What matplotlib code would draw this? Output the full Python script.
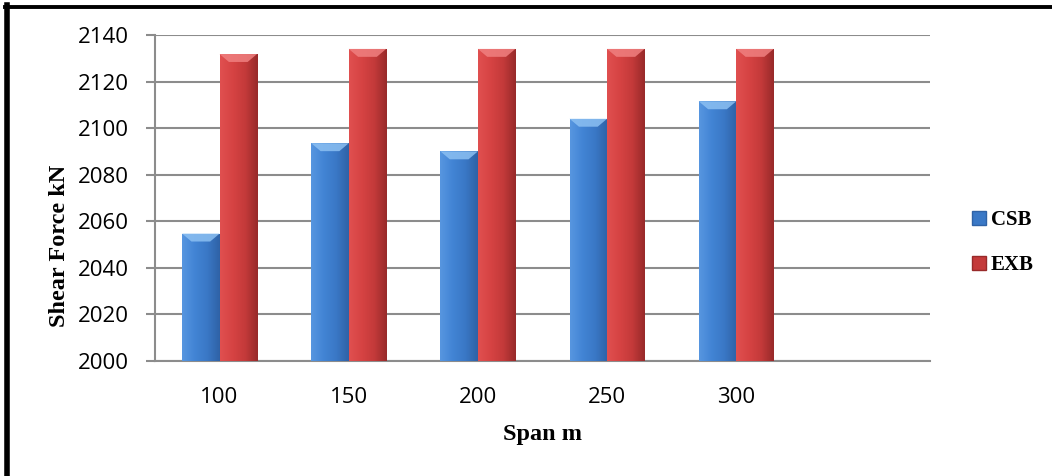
import matplotlib
matplotlib.use('Agg')
import matplotlib.pyplot as plt
import numpy as np
from matplotlib.colors import LinearSegmentedColormap
from matplotlib.patches import Polygon, Patch
from matplotlib.lines import Line2D

spans = ['100', '150', '200', '250', '300']
csb = [2054.7, 2093.5, 2090.0, 2104.0, 2111.5]
exb = [2131.8, 2134.0, 2134.0, 2134.0, 2134.0]
yticks = [2000, 2020, 2040, 2060, 2080, 2100, 2120, 2140]

BLUE = ['#5796e0', '#4284d4', '#3a78c6', '#2f62a6']
RED = ['#e05050', '#d64343', '#c43a3a', '#982a2a']
BLUE_TOP = '#8cc0f2'
RED_TOP = '#f08080'

TICK_FONT = 'Open Sans'
LABEL_FONT = 'Liberation Serif'
GRID = '#8c8c8c'

fig = plt.figure(figsize=(10.52, 4.76), dpi=100)
ax = fig.add_axes([0.1473, 0.2416, 0.7367, 0.685])

width = 0.29
x = np.arange(len(spans))
bars_c = ax.bar(x - width / 2, np.array(csb) - 2000, width, bottom=2000, color='none', zorder=3)
bars_e = ax.bar(x + width / 2, np.array(exb) - 2000, width, bottom=2000, color='none', zorder=3)

ax.set_xlim(-0.5, 5.5)
ax.set_ylim(2000, 2140)


def shade(bars, stops, top_color):
    cmap = LinearSegmentedColormap.from_list('g', stops)
    grad = np.linspace(0, 1, 64).reshape(1, -1)
    for b in bars:
        x0, y0 = b.get_x(), b.get_y()
        w, h = b.get_width(), b.get_height()
        im = ax.imshow(grad, cmap=cmap, aspect='auto', extent=(x0, x0 + w, y0, y0 + h),
                       zorder=3, interpolation='bilinear')
        im.set_clip_path(b)
        # bevel on top of the bar
        bev = 3.4
        tri = Polygon([(x0, y0 + h), (x0 + w, y0 + h), (x0 + w * 0.75, y0 + h - bev),
                       (x0 + w * 0.25, y0 + h - bev)], closed=True,
                      facecolor=top_color, edgecolor='none', alpha=0.85, zorder=4)
        ax.add_patch(tri)


shade(bars_c, BLUE, BLUE_TOP)
shade(bars_e, RED, RED_TOP)
ax.set_xlim(-0.5, 5.5)
ax.set_ylim(2000, 2140)

ax.set_yticks(yticks)
ax.set_xticks(x)
ax.set_xticklabels(spans, fontfamily=TICK_FONT, fontsize=16)
for t in ax.get_yticklabels():
    t.set_fontfamily(TICK_FONT)
    t.set_fontsize(16)
ax.tick_params(axis='y', length=6.5, width=1.5, color=GRID, pad=12)
ax.tick_params(axis='x', length=0, pad=19)
ax.grid(axis='y', color=GRID, linewidth=1.5, zorder=0)
ax.set_axisbelow(True)
for s in ['top', 'right']:
    ax.spines[s].set_visible(False)
for s in ['left', 'bottom']:
    ax.spines[s].set_color(GRID)
    ax.spines[s].set_linewidth(1.5)

ax.set_ylabel('Shear Force kN', fontfamily=LABEL_FONT, fontweight='bold', fontsize=17.5)
ax.yaxis.set_label_coords(-0.109, 0.353)
ax.set_xlabel('Span m', fontfamily=LABEL_FONT, fontweight='bold', fontsize=17.5, labelpad=11.5)

handles = [Patch(facecolor=BLUE[2], edgecolor=BLUE[3]), Patch(facecolor=RED[2], edgecolor=RED[3])]
leg = fig.legend(handles, ['CSB', 'EXB'], loc='center left', bbox_to_anchor=(0.906, 0.49),
                 frameon=False, handlelength=0.7, handleheight=0.7, handletextpad=0.2,
                 labelspacing=1.2, prop={'family': LABEL_FONT, 'weight': 'bold', 'size': 15})

# page border
fig.add_artist(Line2D([0.0068, 0.0068], [0, 0.99], transform=fig.transFigure, color='black', linewidth=4))
fig.add_artist(Line2D([0.0048, 1.0], [0.986, 0.986], transform=fig.transFigure, color='black', linewidth=2.8))

fig.savefig('out.png', dpi=100)
